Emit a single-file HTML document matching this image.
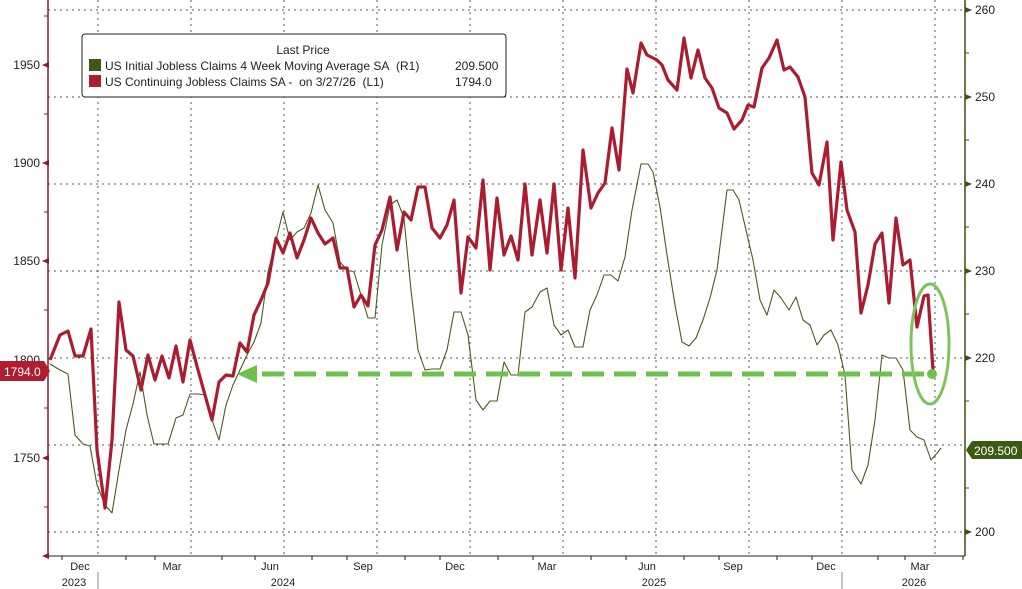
<!DOCTYPE html>
<html><head><meta charset="utf-8"><style>
html,body{margin:0;padding:0;background:#fff;}
svg{display:block;font-family:"Liberation Sans",sans-serif;}
</style></head><body>
<svg width="1022" height="589" viewBox="0 0 1022 589" xmlns="http://www.w3.org/2000/svg">
<rect width="1022" height="589" fill="#fff"/>
<g stroke="#555" stroke-width="1" stroke-dasharray="2,4" fill="none">
<line x1="48" y1="10" x2="965" y2="10"/><line x1="48" y1="97" x2="965" y2="97"/>
<line x1="48" y1="184" x2="965" y2="184"/><line x1="48" y1="271" x2="965" y2="271"/>
<line x1="48" y1="358" x2="965" y2="358"/><line x1="48" y1="445" x2="965" y2="445"/>
<line x1="48" y1="532" x2="965" y2="532"/>
<line x1="98" y1="0" x2="98" y2="556"/><line x1="191" y1="0" x2="191" y2="556"/>
<line x1="284" y1="0" x2="284" y2="556"/><line x1="377" y1="0" x2="377" y2="556"/>
<line x1="470" y1="0" x2="470" y2="556"/><line x1="563" y1="0" x2="563" y2="556"/>
<line x1="656" y1="0" x2="656" y2="556"/><line x1="749" y1="0" x2="749" y2="556"/>
<line x1="842" y1="0" x2="842" y2="556"/><line x1="935" y1="0" x2="935" y2="556"/>
</g>
<line x1="48" y1="0" x2="48" y2="556" stroke="#8b1a2a" stroke-width="1.5"/>
<line x1="965" y1="0" x2="965" y2="556" stroke="#3d4f14" stroke-width="1.5"/>
<line x1="48" y1="556" x2="965" y2="556" stroke="#222" stroke-width="1"/>
<g fill="#8b1a2a">
<polygon points="42,65 49,62 49,68"/><polygon points="42,163 49,160 49,166"/><polygon points="42,261 49,258 49,264"/><polygon points="42,458 49,455 49,461"/><polygon points="42,556 49,553 49,559"/>
</g>
<g stroke="#8b1a2a"><line x1="44" y1="16" x2="48" y2="16"/><line x1="44" y1="114" x2="48" y2="114"/><line x1="44" y1="212" x2="48" y2="212"/><line x1="44" y1="310" x2="48" y2="310"/><line x1="44" y1="408" x2="48" y2="408"/><line x1="44" y1="507" x2="48" y2="507"/></g>
<g fill="#3d4f14">
<polygon points="972,10 965,7 965,13"/><polygon points="972,97 965,94 965,100"/><polygon points="972,184 965,181 965,187"/><polygon points="972,271 965,268 965,274"/><polygon points="972,358 965,355 965,361"/><polygon points="972,532 965,529 965,535"/>
</g>
<g stroke="#3d4f14"><line x1="965" y1="53" x2="969" y2="53"/><line x1="965" y1="140" x2="969" y2="140"/><line x1="965" y1="227" x2="969" y2="227"/><line x1="965" y1="314" x2="969" y2="314"/><line x1="965" y1="401" x2="969" y2="401"/><line x1="965" y1="488" x2="969" y2="488"/></g>
<g font-size="12" fill="#222" text-anchor="end">
<text x="40" y="69">1950</text><text x="40" y="167">1900</text><text x="40" y="265">1850</text><text x="40" y="364">1800</text><text x="40" y="462">1750</text>
</g>
<g font-size="12" fill="#222">
<text x="975" y="14">260</text><text x="975" y="101">250</text><text x="975" y="188">240</text><text x="975" y="275">230</text><text x="975" y="362">220</text><text x="975" y="536">200</text>
</g>
<g stroke="#222"><line x1="62" y1="556" x2="62" y2="560"/><line x1="126" y1="556" x2="126" y2="560"/><line x1="155" y1="556" x2="155" y2="560"/><line x1="222" y1="556" x2="222" y2="560"/><line x1="255" y1="556" x2="255" y2="560"/><line x1="312" y1="556" x2="312" y2="560"/><line x1="347" y1="556" x2="347" y2="560"/><line x1="405" y1="556" x2="405" y2="560"/><line x1="440" y1="556" x2="440" y2="560"/><line x1="498" y1="556" x2="498" y2="560"/><line x1="533" y1="556" x2="533" y2="560"/><line x1="591" y1="556" x2="591" y2="560"/><line x1="626" y1="556" x2="626" y2="560"/><line x1="684" y1="556" x2="684" y2="560"/><line x1="719" y1="556" x2="719" y2="560"/><line x1="777" y1="556" x2="777" y2="560"/><line x1="812" y1="556" x2="812" y2="560"/><line x1="878" y1="556" x2="878" y2="560"/><line x1="905" y1="556" x2="905" y2="560"/><line x1="963" y1="556" x2="963" y2="560"/>
<line x1="98" y1="572" x2="98" y2="589" stroke="#888"/><line x1="842" y1="572" x2="842" y2="589" stroke="#888"/></g>
<g font-size="11" fill="#222" text-anchor="middle">
<text x="80" y="570">Dec</text><text x="172" y="570">Mar</text><text x="270" y="570">Jun</text><text x="363" y="570">Sep</text><text x="455" y="570">Dec</text><text x="547" y="570">Mar</text><text x="647" y="570">Jun</text><text x="733" y="570">Sep</text><text x="826" y="570">Dec</text><text x="920" y="570">Mar</text>
<text x="74" y="586">2023</text><text x="283" y="586">2024</text><text x="654" y="586">2025</text><text x="914" y="586">2026</text>
</g>
<polyline fill="none" stroke="#4d5a22" stroke-width="1.1" stroke-linejoin="round" points="50,364 60,370 68,374 75,435 83,444 90,446 97,485 105,505 112,513 119,470 126,430 133,404 140,372 147,415 154,444 161,444 168,444 176,418 183,415 190,394 198,394 205,395 212,420 219,440 226,405 233,385 240,370 247,355 254,342 261,323 268,272 276,240 283,212 290,240 297,232 304,228 311,213 318,185 325,210 333,223 340,262 347,270 354,272 361,295 368,318 375,318 382,245 390,205 397,200 404,218 411,290 418,350 425,370 432,369 440,369 447,350 454,312 461,312 468,335 476,400 483,410 490,401 497,401 504,362 511,375 518,375 525,312 532,307 540,292 547,288 554,325 561,335 568,330 575,347 583,347 590,310 597,295 604,275 611,275 618,281 625,257 632,210 641,164 648,164 653,172 660,207 667,255 675,305 682,342 689,346 696,338 703,320 710,298 717,270 727,190 733,190 739,200 746,230 753,260 760,300 767,315 774,290 781,298 789,310 796,297 803,320 810,325 817,345 824,335 831,330 838,345 845,375 852,470 861,484 868,465 875,420 882,355 889,358 896,358 903,370 910,430 917,437 924,440 931,460 938,452 941,448"/>
<polyline fill="none" stroke="#ab1c30" stroke-width="3.2" stroke-linejoin="round" points="50,360 60,335 68,331 75,356 83,356 91,329 97,450 105,508 112,440 119,302 126,350 133,356 141,390 148,355 155,380 162,356 169,378 176,346 183,382 190,340 198,370 205,395 212,420 219,382 226,375 233,376 240,343 247,352 254,315 261,300 268,283 276,238 283,253 290,233 297,258 304,240 311,218 318,233 325,244 333,238 340,268 347,268 354,307 361,295 368,306 375,245 382,230 390,197 397,250 404,212 411,220 418,187 425,187 432,228 440,238 447,225 454,200 461,293 468,237 476,248 483,180 490,270 497,198 504,255 511,236 518,260 525,184 532,255 540,200 547,253 554,184 561,270 568,208 575,278 583,150 591,208 598,193 605,183 612,128 619,170 627,69 633,93 641,43 647,55 657,60 662,65 668,80 677,90 684,38 691,78 698,50 705,78 712,88 719,108 727,113 734,129 742,120 748,105 754,107 762,68 769,58 777,40 784,70 790,67 798,77 805,97 812,173 819,185 827,142 833,240 841,162 847,210 855,232 861,313 868,285 875,244 882,233 889,303 896,218 903,265 910,260 917,327 924,296 928,295 933,370"/>
<line x1="262" y1="374" x2="930" y2="374" stroke="#6cc24a" stroke-width="5" stroke-dasharray="22,10"/>
<polygon points="237,374 257,365 257,383" fill="#6cc24a"/>
<circle cx="932" cy="374" r="5" fill="#6cc24a"/>
<ellipse cx="930" cy="344" rx="19" ry="60" fill="none" stroke="#7dc55a" stroke-width="3"/>
<rect x="82" y="34" width="424" height="63" rx="3" fill="#fff" stroke="#222" stroke-width="1"/>
<text x="303" y="54" font-size="12" text-anchor="middle" fill="#222">Last Price</text>
<rect x="89" y="59" width="12" height="12" fill="#3d5a14"/>
<rect x="89" y="75" width="12" height="12" fill="#b01c30"/>
<g font-size="12" fill="#222">
<text x="105" y="70">US Initial Jobless Claims 4 Week Moving Average SA&#160; (R1)</text><text x="455" y="70">209.500</text>
<text x="105" y="86">US Continuing Jobless Claims SA -&#160; on 3/27/26&#160; (L1)</text><text x="455" y="86">1794.0</text>
</g>
<polygon points="0,361 44,361 50,371 44,381 0,381" fill="#b01c30"/>
<text x="4" y="376" font-size="12" fill="#fff">1794.0</text>
<polygon points="966,450 972,441 1022,441 1022,459 972,459" fill="#3d5a14"/>
<text x="974" y="455" font-size="12" fill="#fff">209.500</text>
</svg>
</body></html>
